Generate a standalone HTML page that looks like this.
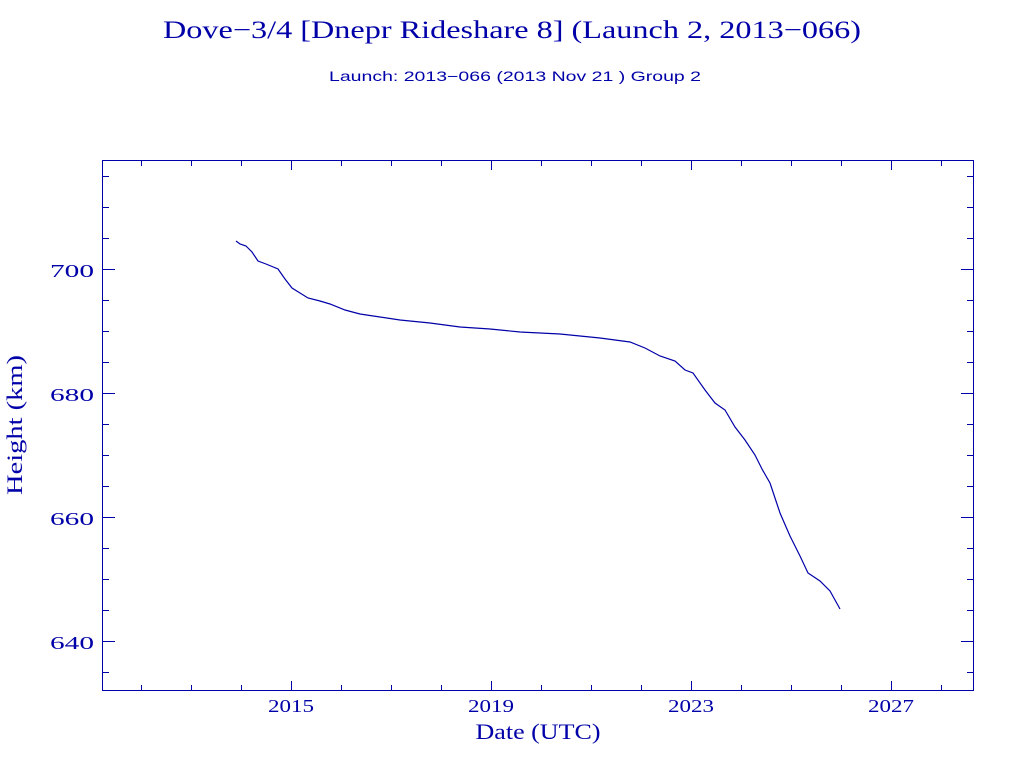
<!DOCTYPE html>
<html><head><meta charset="utf-8"><style>
html,body{margin:0;padding:0;background:#fff;}
svg{display:block;}
text{fill:#0000a8;font-family:"Liberation Serif",serif;}
</style></head><body>
<svg width="1024" height="768" xmlns="http://www.w3.org/2000/svg">
<text x="512" y="38" font-size="25" text-anchor="middle" textLength="698" lengthAdjust="spacingAndGlyphs">Dove−3/4 [Dnepr Rideshare 8] (Launch 2, 2013−066)</text>
<text x="515" y="81" font-size="14" style="font-family:'Liberation Sans',sans-serif" text-anchor="middle" textLength="372" lengthAdjust="spacingAndGlyphs">Launch: 2013−066  (2013 Nov 21 )  Group 2</text>
<g stroke="#0000a8" stroke-width="1" fill="none" shape-rendering="crispEdges">
<rect x="102.5" y="160.5" width="871" height="530"/>
<path d="M141.5 690v-5M191.5 690v-5M241.5 690v-5M291.5 690v-9M341.5 690v-5M391.5 690v-5M441.5 690v-5M491.5 690v-9M541.5 690v-5M591.5 690v-5M641.5 690v-5M691.5 690v-9M741.5 690v-5M791.5 690v-5M841.5 690v-5M891.5 690v-9M941.5 690v-5
M141.5 161v5M191.5 161v5M241.5 161v5M291.5 161v9M341.5 161v5M391.5 161v5M441.5 161v5M491.5 161v9M541.5 161v5M591.5 161v5M641.5 161v5M691.5 161v9M741.5 161v5M791.5 161v5M841.5 161v5M891.5 161v9M941.5 161v5"/>
<path d="M103 672.5h6M103 641.5h12M103 610.5h6M103 579.5h6M103 548.5h6M103 517.5h12M103 486.5h6M103 455.5h6M103 424.5h6M103 393.5h12M103 362.5h6M103 331.5h6M103 300.5h6M103 269.5h12M103 238.5h6M103 207.5h6M103 176.5h6
M973 672.5h-6M973 641.5h-12M973 610.5h-6M973 579.5h-6M973 548.5h-6M973 517.5h-12M973 486.5h-6M973 455.5h-6M973 424.5h-6M973 393.5h-12M973 362.5h-6M973 331.5h-6M973 300.5h-6M973 269.5h-12M973 238.5h-6M973 207.5h-6M973 176.5h-6"/>
</g>
<polyline fill="none" stroke="#0000a8" stroke-width="1.2" points="236,241 240,244 246,246 252,252 258,261 266,264 278,269 285,279 292,288 300,293 308,298 320,301 330,304 345,310 360,314 380,317 400,320 430,323 460,327 490,329 520,332 560,334 600,338 630,342 645,348 660,356 675,361 685,370 693,373 705,390 715,403 725,410 735,427 745,440 755,455 762,469 770,483 775,498 780,513 790,536 800,556 808,573 820,581 830,591 840,609"/>
<g font-size="18" text-anchor="end">
<text x="94" y="277" textLength="44" lengthAdjust="spacingAndGlyphs">700</text>
<text x="94" y="401" textLength="44" lengthAdjust="spacingAndGlyphs">680</text>
<text x="94" y="525" textLength="44" lengthAdjust="spacingAndGlyphs">660</text>
<text x="94" y="649" textLength="44" lengthAdjust="spacingAndGlyphs">640</text>
</g>
<g font-size="18" text-anchor="middle">
<text x="291" y="712" textLength="46" lengthAdjust="spacingAndGlyphs">2015</text>
<text x="491" y="712" textLength="46" lengthAdjust="spacingAndGlyphs">2019</text>
<text x="691" y="712" textLength="46" lengthAdjust="spacingAndGlyphs">2023</text>
<text x="891" y="712" textLength="46" lengthAdjust="spacingAndGlyphs">2027</text>
</g>
<text x="538" y="739" font-size="22" text-anchor="middle" textLength="125" lengthAdjust="spacingAndGlyphs">Date (UTC)</text>
<text transform="translate(22,425) rotate(-90)" font-size="22" text-anchor="middle" textLength="140" lengthAdjust="spacingAndGlyphs">Height (km)</text>
</svg>
</body></html>
